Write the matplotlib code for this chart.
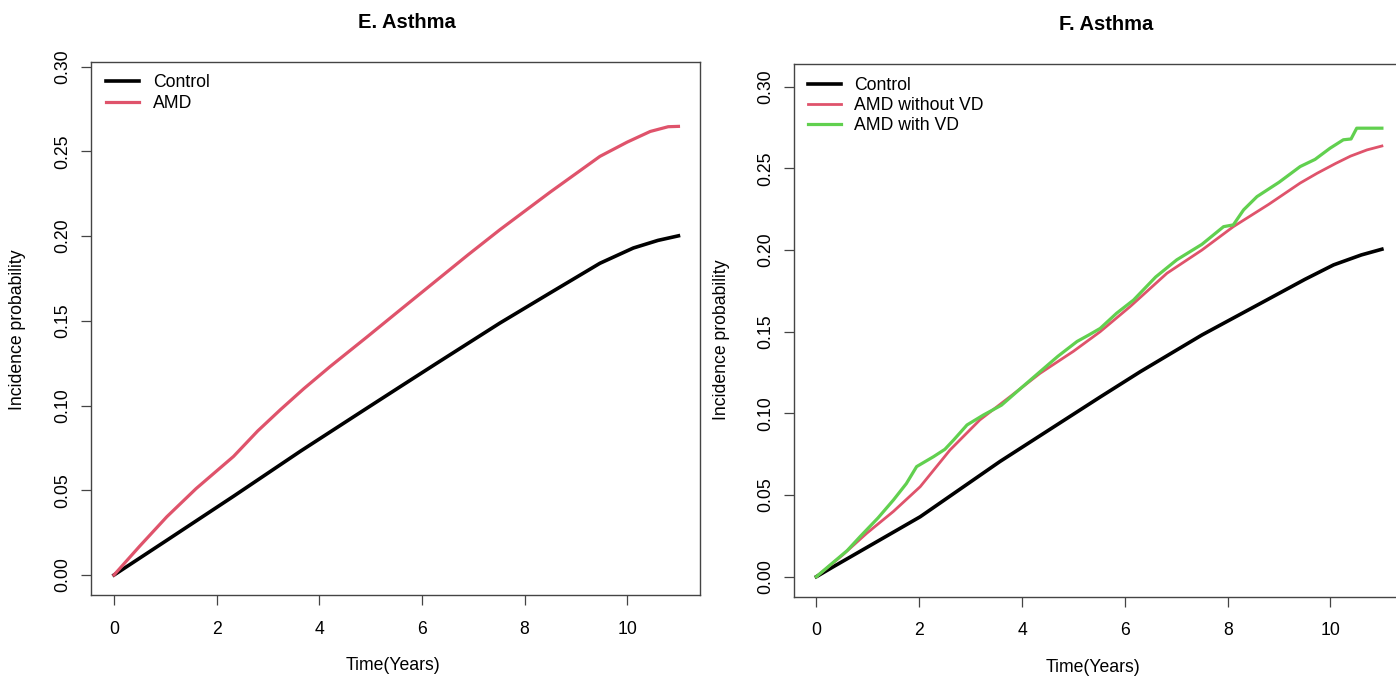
import matplotlib
matplotlib.use("Agg")
import matplotlib.pyplot as plt
from matplotlib.lines import Line2D

plt.rcParams['font.family'] = ['Liberation Sans', 'DejaVu Sans']

# ---------------- data ----------------
# Panel E
e_ctrl_t = [0, 1.03, 2.33, 3.63, 4.93, 5.57, 6.29, 7.52, 8.5, 9.47, 10.12, 10.6, 11.0]
e_ctrl_p = [0, 0.0205, 0.0465, 0.0730, 0.0985, 0.111, 0.125, 0.1487, 0.1665, 0.184, 0.193, 0.1975, 0.2002]
e_amd_t = [0, 0.5, 1.03, 1.6, 2.33, 2.8, 3.24, 3.7, 4.21, 4.93, 5.57, 6.29, 6.9, 7.52, 8.5, 9.47, 10.0, 10.45, 10.8, 11.0]
e_amd_p = [0, 0.017, 0.0344, 0.051, 0.070, 0.085, 0.0975, 0.110, 0.123, 0.1405, 0.1563, 0.174, 0.189, 0.2038, 0.226, 0.2471, 0.2555, 0.2618, 0.2646, 0.2648]

# Panel F
f_ctrl_t = [0, 0.33, 2.02, 3.57, 5.52, 6.3, 7.5, 8.76, 9.5, 10.06, 10.6, 11.0]
f_ctrl_p = [0, 0.0061, 0.0367, 0.0705, 0.110, 0.1255, 0.148, 0.1694, 0.182, 0.1909, 0.197, 0.2005]
f_nvd_t = [0, 0.5, 0.98, 1.5, 2.02, 2.6, 3.18, 3.8, 4.35, 5.0, 5.52, 6.1, 6.82, 7.5, 8.11, 8.8, 9.41, 9.74, 10.1, 10.39, 10.71, 11.0]
f_nvd_p = [0, 0.013, 0.0266, 0.040, 0.0551, 0.0776, 0.096, 0.111, 0.1245, 0.138, 0.150, 0.1653, 0.1858, 0.200, 0.2143, 0.228, 0.241, 0.247, 0.253, 0.2575, 0.2613, 0.2637]
f_vd_t = [0, 0.3, 0.6, 0.85, 1.2, 1.5, 1.75, 1.95, 2.28, 2.5, 2.67, 2.93, 3.25, 3.6, 4.0, 4.35, 4.7, 5.07, 5.3, 5.52, 5.84, 6.17, 6.6, 7.01, 7.5, 7.92, 8.11, 8.31, 8.57, 9.0, 9.41, 9.7, 9.99, 10.25, 10.4, 10.51, 11.0]
f_vd_p = [0, 0.008, 0.016, 0.0245, 0.036, 0.047, 0.057, 0.0674, 0.0735, 0.078, 0.0837, 0.0929, 0.099, 0.105, 0.116, 0.1255, 0.135, 0.144, 0.148, 0.152, 0.1613, 0.1694, 0.1835, 0.194, 0.2035, 0.2143, 0.2154, 0.2246, 0.2327, 0.2415, 0.2511, 0.2555, 0.2623, 0.2675, 0.268, 0.2746, 0.2746]

x_ticks = [0, 2, 4, 6, 8, 10]
y_ticks = [0.00, 0.05, 0.10, 0.15, 0.20, 0.25, 0.30]
y_ticklabels = ["0.00", "0.05", "0.10", "0.15", "0.20", "0.25", "0.30"]

RED = "#DF536B"
GREEN = "#61D04F"
FS = 12.7

W, H = 1396, 677
fig = plt.figure(figsize=(W / 100, H / 100), dpi=100)


def px_axes(x0, y0, x1, y1):
    return fig.add_axes([x0 / W, 1 - y1 / H, (x1 - x0) / W, (y1 - y0) / H])


def style(ax, xlim, ylim):
    ax.set_xlim(*xlim)
    ax.set_ylim(*ylim)
    ax.set_xticks(x_ticks)
    ax.set_xticklabels([str(v) for v in x_ticks])
    ax.set_yticks(y_ticks)
    ax.set_yticklabels(y_ticklabels, rotation=90, va='center')
    for s in ax.spines.values():
        s.set_color('#444444')
        s.set_linewidth(1.0)
    ax.tick_params(direction='out', length=7.5, width=0.9, color='#444444',
                   labelsize=FS, pad=7)
    ax.tick_params(axis='x', pad=11)


# ---------- Panel E ----------
axE = px_axes(91, 62, 700, 595)
style(axE, (-0.448, 11.42), (-0.0118, 0.3028))
axE.plot(e_ctrl_t, e_ctrl_p, color='black', lw=2.6)
axE.plot(e_amd_t, e_amd_p, color=RED, lw=2.3)
axE.legend([Line2D([], [], color='black', lw=2.6), Line2D([], [], color=RED, lw=2.3)],
           ["Control", "AMD"], loc='upper left', frameon=False,
           bbox_to_anchor=(106 / W, 1 - 74 / H), bbox_transform=fig.transFigure,
           borderpad=0, borderaxespad=0, handlelength=1.87, handletextpad=0.8,
           labelspacing=0.25, fontsize=FS)
fig.text(407 / W, 1 - 22 / H, "E. Asthma", ha='center', va='center', fontsize=14.5, fontweight='bold')
fig.text(393 / W, 1 - 665 / H, "Time(Years)", ha='center', va='center', fontsize=FS)
fig.text(18 / W, 1 - 330 / H, "Incidence probability", ha='center', va='center', fontsize=FS, rotation=90)

# ---------- Panel F ----------
axF = px_axes(794, 64, 1404, 596.7)
style(axF, (-0.435, 11.43), (-0.01225, 0.3139))
axF.plot(f_ctrl_t, f_ctrl_p, color='black', lw=2.6)
axF.plot(f_nvd_t, f_nvd_p, color=RED, lw=2.0)
axF.plot(f_vd_t, f_vd_p, color=GREEN, lw=2.3)
axF.legend([Line2D([], [], color='black', lw=2.6), Line2D([], [], color=RED, lw=2.0),
            Line2D([], [], color=GREEN, lw=2.3)],
           ["Control", "AMD without VD", "AMD with VD"], loc='upper left', frameon=False,
           bbox_to_anchor=(808 / W, 1 - 77 / H), bbox_transform=fig.transFigure,
           borderpad=0, borderaxespad=0, handlelength=1.87, handletextpad=0.75,
           labelspacing=0.17, fontsize=FS)
fig.text(1106 / W, 1 - 24 / H, "F. Asthma", ha='center', va='center', fontsize=14.5, fontweight='bold')
fig.text(1093 / W, 1 - 668 / H, "Time(Years)", ha='center', va='center', fontsize=FS)
fig.text(722 / W, 1 - 340 / H, "Incidence probability", ha='center', va='center', fontsize=FS, rotation=90)

fig.savefig("out.png", dpi=100)
